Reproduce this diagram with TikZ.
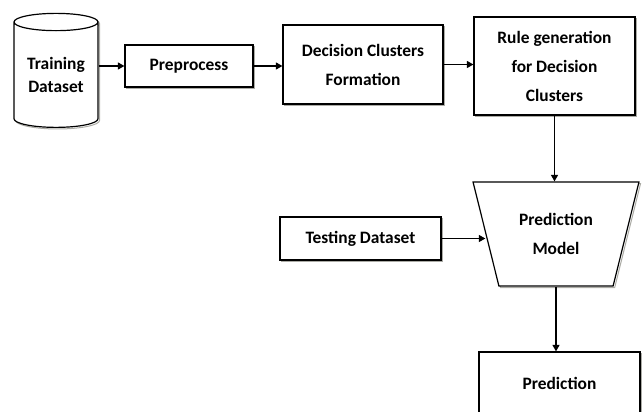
\documentclass[tikz,border=0pt]{standalone}
\usepackage{fontspec}
\setmainfont{Carlito}
\definecolor{shade}{RGB}{172,172,166}
\usetikzlibrary{arrows.meta,positioning,shapes.geometric,shadows}

\begin{document}
\begin{tikzpicture}[x=1pt,y=1pt,
    box/.style={draw,line width=1.2pt,fill=white,align=center,inner sep=0pt,
      font=\fontsize{17.4}{29}\selectfont\bfseries,
      general shadow={shadow xshift=1.6pt,shadow yshift=-1.6pt,draw=shade,line width=1pt}},
    store/.style={box,cylinder,shape border rotate=90,aspect=0.3,
      font=\fontsize{17.4}{23}\selectfont\bfseries},
    funnel/.style={box,trapezium,shape border rotate=180,trapezium stretches=true,
      trapezium left angle=68,trapezium right angle=68},
    link/.style={-{Triangle[length=6.5pt,width=7pt]},line width=1.2pt}]
  \clip (0,0) rectangle (643,412);
  % top row
  \node[store,minimum width=84,minimum height=114] (train) at (56,337) {Training\\Dataset};
  \node[box,minimum width=128,minimum height=42] (prep) at (189,346) {Preprocess};
  \node[box,minimum width=160,minimum height=79] (form) at (363,347.5) {Decision Clusters\\Formation};
  \node[box,minimum width=161,minimum height=98] (rules) at (554.5,346) {Rule generation\\for Decision\\Clusters};
  % model and prediction
  \node[funnel,minimum width=166,minimum height=104] (model) at (556,178) {Prediction\\Model};
  \node[box,minimum width=161,minimum height=43] (test) at (360.5,173.5) {Testing Dataset};
  \node[box,minimum width=161,minimum height=62] (pred) at (559.5,29) {Prediction};
  \draw[link] (prep.west -| train.east) -- (prep.west);
  \draw[link] (prep.east) -- (prep.east -| form.west);
  \draw[link] (form.east) -- (form.east -| rules.west);
  \draw[link] (rules.south) -- (rules.south |- model.north);
  \draw[link] (test.east) -- (test.east -| model.west);
  \draw[link] (model.south) -- (model.south |- pred.north);
\end{tikzpicture}
\end{document}
